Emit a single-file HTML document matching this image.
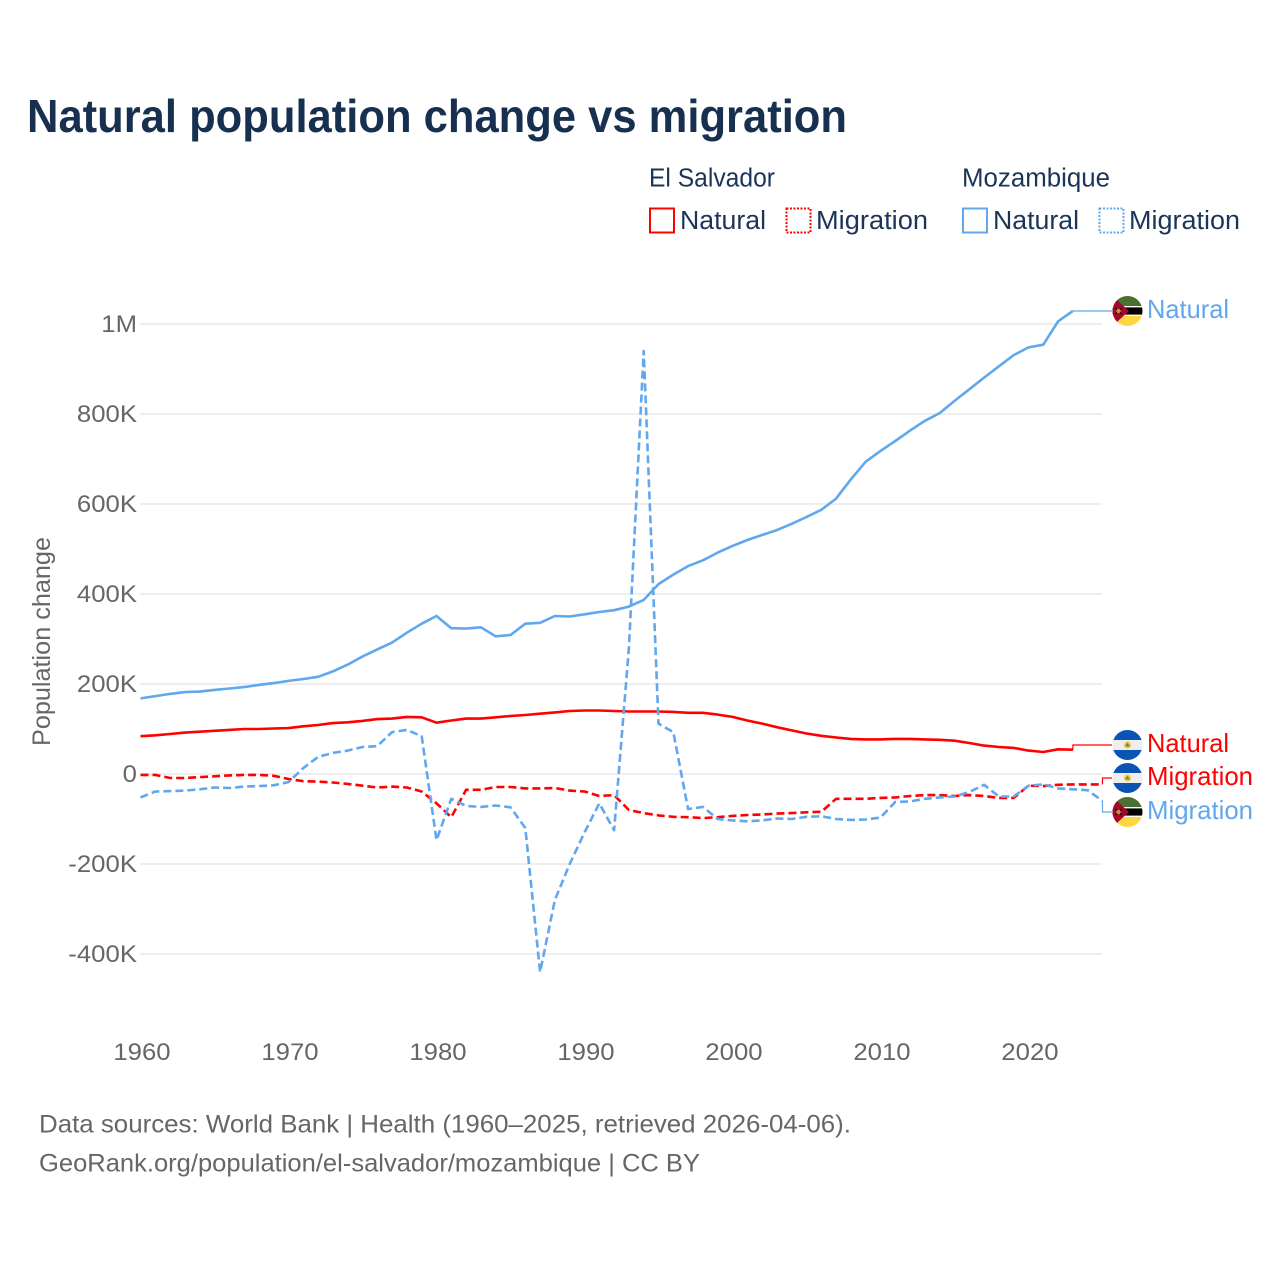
<!DOCTYPE html>
<html lang="en">
<head>
<meta charset="utf-8">
<title>Natural population change vs migration</title>
<style>
html,body{margin:0;padding:0;background:#fff;width:1280px;height:1280px;overflow:hidden}
svg{display:block;font-family:"Liberation Sans",sans-serif}
</style>
</head>
<body>
<svg id="chart" xmlns="http://www.w3.org/2000/svg" width="1280" height="1280" viewBox="0 0 1280 1280">
  <defs>
    <clipPath id="flag-clip"><circle cx="0" cy="0" r="15"/></clipPath>
    <g id="flag-sv">
      <g clip-path="url(#flag-clip)">
        <rect x="-15" y="-15" width="30" height="30" fill="#eeeeee"/>
        <rect x="-15" y="-15" width="30" height="10" fill="#0a55b4"/>
        <rect x="-15" y="5" width="30" height="10" fill="#0a55b4"/>
        <circle cx="0" cy="0" r="3.6" fill="#f2c94c"/>
        <path d="M-2.5 1.5 L2.5 1.5 L0 -2.5Z" fill="#5f8f4a"/>
      </g>
    </g>
    <g id="flag-mz">
      <g clip-path="url(#flag-clip)">
        <rect x="-15" y="-15" width="30" height="30" fill="#ffffff"/>
        <rect x="-15" y="-15" width="30" height="10" fill="#4b7132"/>
        <rect x="-15" y="-3.6" width="30" height="7.2" fill="#000000"/>
        <rect x="-15" y="5" width="30" height="10" fill="#ffd640"/>
        <path d="M-15 -15 L1.5 0 L-15 15Z" fill="#a6062e"/>
        <path d="M-12 -3 L-6 3 M-6 -3 L-12 3" stroke="#000" stroke-width="1.2"/>
        <circle cx="-9" cy="0" r="2.2" fill="#ffd640" opacity="0.7"/>
      </g>
    </g>
  </defs>

  <text x="27" y="132" font-size="46" font-weight="700" fill="#17304f" textLength="820" lengthAdjust="spacingAndGlyphs">Natural population change vs migration</text>

  <g font-size="25.5" fill="#1b3558">
    <text x="649" y="186.500" textLength="126" lengthAdjust="spacingAndGlyphs">El Salvador</text>
    <text x="962" y="186.500" textLength="148" lengthAdjust="spacingAndGlyphs">Mozambique</text>

    <rect x="650" y="208.500" width="24" height="24" fill="none" stroke="#ff0000" stroke-width="2"/>
    <text x="680" y="229" textLength="86" lengthAdjust="spacingAndGlyphs">Natural</text>
    <rect x="786.500" y="208.500" width="24" height="24" fill="none" stroke="#ff0000" stroke-width="2" stroke-dasharray="2 1.500"/>
    <text x="816" y="229" textLength="112" lengthAdjust="spacingAndGlyphs">Migration</text>

    <rect x="963" y="208.500" width="24" height="24" fill="none" stroke="#60a7ee" stroke-width="2"/>
    <text x="993" y="229" textLength="86" lengthAdjust="spacingAndGlyphs">Natural</text>
    <rect x="1099.500" y="208.500" width="24" height="24" fill="none" stroke="#60a7ee" stroke-width="2" stroke-dasharray="2 1.500"/>
    <text x="1129" y="229" textLength="111" lengthAdjust="spacingAndGlyphs">Migration</text>
  </g>

  <g id="grid"></g>
  <g id="y-ticks" font-size="24.500" fill="#666666" text-anchor="end"></g>
  <g id="x-ticks" font-size="24.500" fill="#666666" text-anchor="middle"></g>
  <text transform="translate(50,641.500) rotate(-90)" text-anchor="middle" font-size="25" fill="#666666" textLength="209" lengthAdjust="spacingAndGlyphs">Population change</text>

  <g id="series"></g>
  <g id="end-labels" font-size="26"></g>

  <g font-size="25" fill="#666666">
    <text x="39" y="1132.500" textLength="812" lengthAdjust="spacingAndGlyphs">Data sources: World Bank | Health (1960–2025, retrieved 2026-04-06).</text>
    <text x="39" y="1171.500" textLength="661" lengthAdjust="spacingAndGlyphs">GeoRank.org/population/el-salvador/mozambique | CC BY</text>
  </g>
</svg>

<script>
const startYear = 1960;
const xTickYears = [1960, 1970, 1980, 1990, 2000, 2010, 2020];
const yTickValues = [1000, 800, 600, 400, 200, 0, -200, -400];
const yTickLabels = ["1M", "800K", "600K", "400K", "200K", "0", "-200K", "-400K"];

const mozambiqueNatural = [168,173,178,182,183,187,190,193,198,202,207,211,216,228,243,261,277,292,314,334,351,324,323,326,306,309,334,336,351,350,355,360,364,372,387,422,443,462,475,492,507,520,531,542,556,571,587,612,655,694,718,740,763,785,802,829,855,881,906,931,948,954,1006,1029];
const mozambiqueMigration = [-52,-39,-38,-37,-34,-30,-31,-28,-27,-25,-18,13,38,47,52,60,62,93,98,84,-147,-55,-71,-73,-70,-74,-120,-440,-280,-200,-130,-65,-125,280,940,112,93,-78,-73,-100,-103,-105,-103,-99,-100,-95,-94,-100,-102,-101,-97,-62,-61,-55,-52,-50,-40,-24,-50,-50,-26,-23,-32,-34,-36,-60];
const salvadorNatural = [84,86,89,92,94,96,98,100,100,101,102,106,109,113,115,118,122,123,127,126,114,119,123,123,126,129,131,134,137,140,141,141,140,139,139,139,138,136,136,132,127,119,112,104,97,90,85,81,78,77,77,78,78,77,76,74,69,63,60,58,52,49,55,54];
const salvadorMigration = [-2,-2,-9,-9,-7,-5,-3,-2,-2,-4,-11,-16,-17,-19,-22,-26,-30,-28,-30,-39,-65,-96,-35,-35,-29,-29,-32,-32,-31,-37,-39,-49,-47,-80,-87,-92,-95,-96,-98,-96,-93,-91,-90,-88,-87,-85,-84,-55,-55,-55,-53,-52,-49,-47,-47,-49,-47,-49,-53,-53,-26,-27,-24,-23,-23,-23];

const SVG_NS = "http://www.w3.org/2000/svg";
const RED = "#ff0000";
const BLUE = "#60a7ee";

function xScale(year) { return 140.500 + (year - 1960) * 14.8; }
function yScale(k) { return 774 - k * 0.45; }

function make(tag, attrs, parent, text) {
  const el = document.createElementNS(SVG_NS, tag);
  for (const key in attrs) el.setAttribute(key, attrs[key]);
  if (text !== undefined) el.textContent = text;
  parent.appendChild(el);
  return el;
}

function widen(el, factor) {
  el.setAttribute("textLength", (el.getComputedTextLength() * factor).toFixed(1));
  el.setAttribute("lengthAdjust", "spacingAndGlyphs");
}

const gridGroup = document.getElementById("grid");
const yTickGroup = document.getElementById("y-ticks");
yTickValues.forEach(function (value, i) {
  const y = yScale(value);
  const line = make("line", { x1: 140, x2: 1102, y1: y, y2: y, stroke: "#eeeeee", "stroke-width": 2 }, gridGroup);
  
  
  const label = make("text", { x: 137, y: y + 8 }, yTickGroup, yTickLabels[i]);
  
  
  widen(label, 1.05);
});

const xTickGroup = document.getElementById("x-ticks");
xTickYears.forEach(function (year) {
  const label = make("text", { x: xScale(year) + 1.500, y: 1060 }, xTickGroup, String(year));
  
  
  widen(label, 1.05);
});

function linePath(values) {
  return values.map(function (v, i) {
    return (i ? "L" : "M") + xScale(startYear + i).toFixed(1) + " " + yScale(v).toFixed(1);
  }).join(" ");
}

const seriesGroup = document.getElementById("series");
const labelGroup = document.getElementById("end-labels");

function drawConnector(values, labelY, color) {
  const lastIndex = values.length - 1;
  const x = xScale(startYear + lastIndex);
  const y = yScale(values[lastIndex]);
  const d = "M" + x.toFixed(1) + " " + y.toFixed(1) + " V" + labelY + " H1112";
  const path = make("path", { d: d, fill: "none", stroke: color, "stroke-width": 1.2 }, seriesGroup);
  
  
}

function drawLine(values, color, dashed) {
  const attrs = { d: linePath(values), fill: "none", stroke: color, "stroke-width": 2.6, "stroke-linejoin": "round" };
  if (dashed) attrs["stroke-dasharray"] = "8 4";
  const path = make("path", attrs, seriesGroup);
  
  
}

drawConnector(salvadorNatural, 745, RED);
drawConnector(salvadorMigration, 778, RED);
drawConnector(mozambiqueNatural, 311, BLUE);
drawConnector(mozambiqueMigration, 812, BLUE);

drawLine(salvadorNatural, RED, false);
drawLine(salvadorMigration, RED, true);
drawLine(mozambiqueNatural, BLUE, false);
drawLine(mozambiqueMigration, BLUE, true);

function drawEndLabel(flagId, labelY, text, color, width) {
  const flag = make("use", { href: "#" + flagId, x: 1127.500, y: labelY }, labelGroup);
  
  
  const label = make("text", { x: 1147, y: labelY + 7, fill: color, textLength: width, lengthAdjust: "spacingAndGlyphs" }, labelGroup, text);
  
  
}

drawEndLabel("flag-mz", 311, "Natural", BLUE, 82);
drawEndLabel("flag-sv", 745, "Natural", RED, 82);
drawEndLabel("flag-sv", 778, "Migration", RED, 106);
drawEndLabel("flag-mz", 812, "Migration", BLUE, 106);
</script>
</body>
</html>
